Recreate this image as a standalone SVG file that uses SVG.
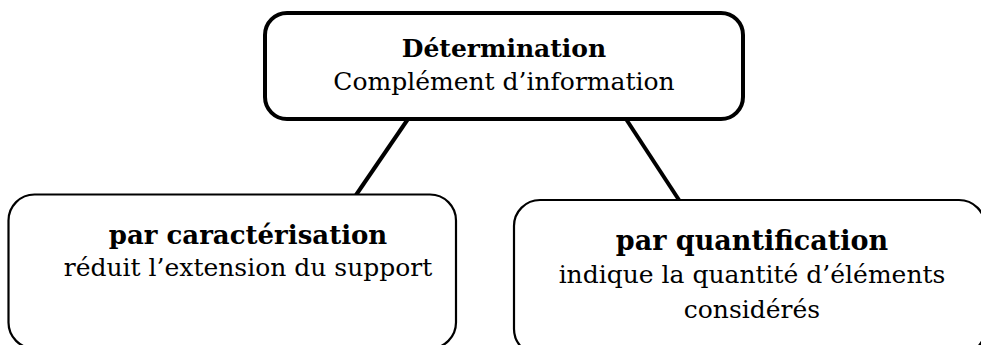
<svg xmlns="http://www.w3.org/2000/svg" width="981" height="345" viewBox="0 0 981 345">
  <style>
    .bg { fill: #ffffff; }
    .link { stroke: #000; stroke-width: 4; fill: none; stroke-linecap: butt; }
    .box-main { fill: #fff; stroke: #000; stroke-width: 4; }
    .box { fill: #fff; stroke: #000; stroke-width: 2.2; }
    .t { font-family: "DejaVu Serif", "Liberation Serif", serif; fill: #000; text-anchor: middle; }
    .title { font-weight: bold; font-size: 25px; }
    .sub { font-size: 25px; }
  </style>
  <rect class="bg" x="0" y="0" width="981" height="345"/>

  <!-- connectors -->
  <g id="connectors">
    <line class="link" x1="408" y1="119" x2="356" y2="195"/>
    <line class="link" x1="626" y1="119" x2="679" y2="200"/>
  </g>

  <!-- root node -->
  <g id="node-determination">
    <rect class="box-main" x="265" y="13" width="478" height="106" rx="22" ry="22"/>
    <text class="t title" x="504" y="57">Détermination</text>
    <text class="t sub" x="504" y="90">Complément d’information</text>
  </g>

  <!-- left child -->
  <g id="node-caracterisation">
    <rect class="box" x="8.5" y="194.5" width="447.5" height="154" rx="26" ry="26"/>
    <text class="t title" x="248" y="244" style="font-size:26px">par caractérisation</text>
    <text class="t sub" x="248" y="276">réduit l’extension du support</text>
  </g>

  <!-- right child (runs past the right edge of the page) -->
  <g id="node-quantification">
    <rect class="box" x="514" y="200" width="471" height="155" rx="26" ry="26"/>
    <text class="t title" x="752" y="250" style="font-size:27px">par quantification</text>
    <text class="t sub" x="752" y="283">indique la quantité d’éléments</text>
    <text class="t sub" x="752" y="318">considérés</text>
  </g>
</svg>
